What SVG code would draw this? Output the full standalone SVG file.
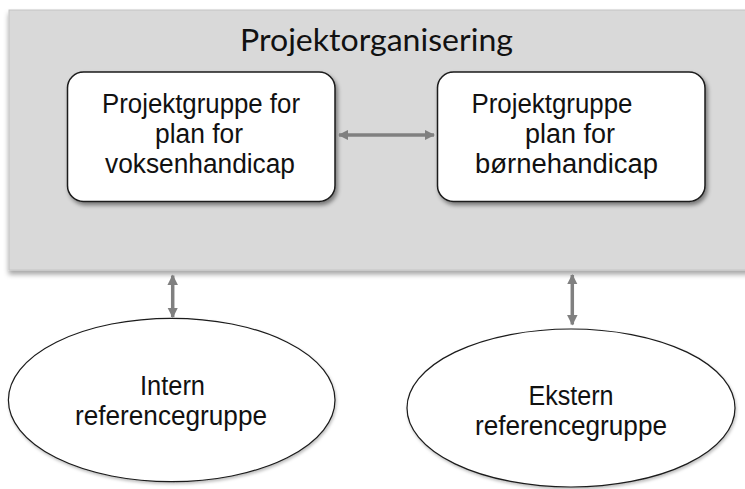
<svg xmlns="http://www.w3.org/2000/svg" width="745" height="489" viewBox="0 0 745 489">
  <defs>
    <style>
      .panel { fill: #d9d9d9; stroke: #c4c4c4; stroke-width: 1; }
      .box { fill: #ffffff; stroke: #1a1a1a; stroke-width: 1.5; }
      .oval { fill: #ffffff; stroke: #1a1a1a; stroke-width: 1.2; }
      .lbl { font-family: "Liberation Sans", Arial, sans-serif; font-size: 27px; fill: #111111; text-anchor: middle; }
      .title { font-family: Lato, "Open Sans", sans-serif; font-size: 30px; fill: #111111; text-anchor: middle; }
      .conn { stroke: #808080; stroke-width: 3.5; fill: none; }
    </style>
    <filter id="shadow" x="-10%" y="-10%" width="125%" height="130%">
      <feDropShadow dx="2" dy="3" stdDeviation="2" flood-color="#000000" flood-opacity="0.45"/>
    </filter>
    <filter id="pshadow" x="-5%" y="-5%" width="110%" height="115%">
      <feDropShadow dx="0" dy="4" stdDeviation="2.5" flood-color="#000000" flood-opacity="0.35"/>
    </filter>
    <filter id="oshadow" x="-10%" y="-10%" width="120%" height="125%">
      <feDropShadow dx="1" dy="2" stdDeviation="1.5" flood-color="#000000" flood-opacity="0.25"/>
    </filter>
    <marker id="ah" viewBox="0 0 10 10" refX="9" refY="5" markerWidth="3" markerHeight="3" orient="auto-start-reverse" markerUnits="strokeWidth">
      <path d="M0,0 L10,5 L0,10 Z" fill="#808080"/>
    </marker>
  </defs>

  <g id="panel">
    <rect class="panel" x="9" y="10" width="745" height="260" filter="url(#pshadow)"/>
    <text class="title" x="376.5" y="51" textLength="273" lengthAdjust="spacingAndGlyphs">Projektorganisering</text>
  </g>

  <g id="group-voksen">
    <rect class="box" x="67.5" y="72" width="267.5" height="129.5" rx="16" ry="16" filter="url(#shadow)"/>
    <text class="lbl" x="201" y="113" textLength="198" lengthAdjust="spacingAndGlyphs">Projektgruppe for</text>
    <text class="lbl" x="199" y="143" textLength="88" lengthAdjust="spacingAndGlyphs">plan for</text>
    <text class="lbl" x="200" y="173" textLength="190" lengthAdjust="spacingAndGlyphs">voksenhandicap</text>
  </g>

  <g id="group-boerne">
    <rect class="box" x="437.5" y="72" width="267.5" height="129.5" rx="16" ry="16" filter="url(#shadow)"/>
    <text class="lbl" x="552" y="113" textLength="161" lengthAdjust="spacingAndGlyphs">Projektgruppe</text>
    <text class="lbl" x="570" y="143" textLength="90" lengthAdjust="spacingAndGlyphs">plan for</text>
    <text class="lbl" x="566.5" y="173" textLength="183" lengthAdjust="spacingAndGlyphs">børnehandicap</text>
  </g>

  <g id="intern">
    <ellipse class="oval" cx="171.7" cy="400" rx="163.3" ry="81.7" filter="url(#oshadow)"/>
    <text class="lbl" x="172.5" y="395" textLength="65" lengthAdjust="spacingAndGlyphs">Intern</text>
    <text class="lbl" x="171" y="425" textLength="192" lengthAdjust="spacingAndGlyphs">referencegruppe</text>
  </g>

  <g id="ekstern">
    <ellipse class="oval" cx="571" cy="408" rx="164" ry="79" filter="url(#oshadow)"/>
    <text class="lbl" x="571" y="405" textLength="85" lengthAdjust="spacingAndGlyphs">Ekstern</text>
    <text class="lbl" x="571" y="435" textLength="192" lengthAdjust="spacingAndGlyphs">referencegruppe</text>
  </g>

  <g id="connectors">
    <line class="conn" x1="339" y1="135" x2="434" y2="135" marker-start="url(#ah)" marker-end="url(#ah)"/>
    <line class="conn" x1="172.7" y1="275.5" x2="172.7" y2="317" marker-start="url(#ah)" marker-end="url(#ah)"/>
    <line class="conn" x1="572.3" y1="275" x2="572.3" y2="324.5" marker-start="url(#ah)" marker-end="url(#ah)"/>
  </g>
</svg>
